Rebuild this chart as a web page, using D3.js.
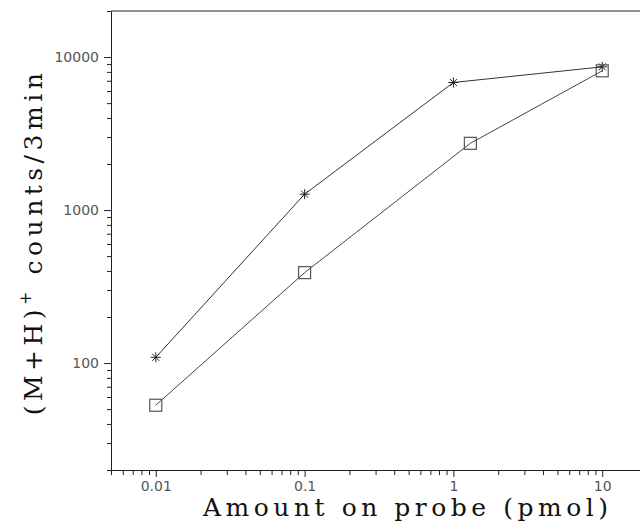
<!DOCTYPE html>
<html>
<head>
<meta charset="utf-8">
<script src="https://cdn.jsdelivr.net/npm/d3@7"></script>
<style>
  body { margin: 0; background: #fff; }
  svg { display: block; }
</style>
</head>
<body>
<div id="chart"></div>
<script>
// data
var starX = [0.01, 0.1, 1, 10];
var starY = [109, 1270, 6820, 8630];
var squareX = [0.01, 0.1, 1.3, 10];
var squareY = [53, 390, 2730, 8130];
var xTickLabels = ["0.01", "0.1", "1", "10"];
var yTickLabels = ["100", "1000", "10000"];

var width = 640, height = 526;
var plotLeft = 111, plotRight = 647, plotTop = 11, plotBottom = 470;

var svg = d3.select("#chart").append("svg")
  .attr("width", width)
  .attr("height", height);

var x = d3.scaleLog().domain([0.005, 20]).range([plotLeft, plotRight]);
var y = d3.scaleLog().domain([20, 20000]).range([plotBottom, plotTop]);

var ink = "#222";

// is it a power of ten
function major(d) { return Math.abs(Math.log10(d) - Math.round(Math.log10(d))) < 1e-6; }

// x axis
var xAxis = svg.append("g")
  .attr("transform", "translate(0," + plotBottom + ")")
  .call(d3.axisBottom(x).ticks(10)
    .tickFormat(function(d) { return major(d) ? xTickLabels[Math.round(Math.log10(d)) + 2] : ""; })
    .tickSizeOuter(0));
xAxis.select(".domain").attr("stroke", ink);
xAxis.selectAll(".tick line").attr("stroke", ink).attr("y2", function(d) { return major(d) ? 7 : 5; });
xAxis.selectAll(".tick text")
  .attr("y", 11)
  .style("font-family", "DejaVu Sans")
  .style("font-size", "14px")
  .style("fill", "#555");

// y axis
var yAxis = svg.append("g")
  .attr("transform", "translate(" + plotLeft + ",0)")
  .call(d3.axisLeft(y).ticks(10)
    .tickFormat(function(d) { return major(d) ? yTickLabels[Math.round(Math.log10(d)) - 2] || "" : ""; })
    .tickSizeOuter(0));
yAxis.select(".domain").attr("stroke", ink);
yAxis.selectAll(".tick line").attr("stroke", ink).attr("x2", function(d) { return major(d) ? -7 : -4; });
yAxis.selectAll(".tick text")
  .attr("x", -12)
  .style("font-family", "DejaVu Sans")
  .style("font-size", "14px")
  .style("fill", "#555");

// top frame line
svg.append("line")
  .attr("x1", plotLeft).attr("x2", width)
  .attr("y1", plotTop).attr("y2", plotTop)
  .attr("stroke", ink);

var line = d3.line()
  .x(function(d) { return x(d[0]); })
  .y(function(d) { return y(d[1]); });

var stars = d3.zip(starX, starY);
var squares = d3.zip(squareX, squareY);

svg.append("path").datum(stars)
  .attr("d", line).attr("fill", "none").attr("stroke", "#333").attr("stroke-width", 1);
svg.append("path").datum(squares)
  .attr("d", line).attr("fill", "none").attr("stroke", "#444").attr("stroke-width", 1);

// asterisk markers
var r = 5;
svg.selectAll(".star").data(stars).enter().append("path")
  .attr("class", "star")
  .attr("transform", function(d) { return "translate(" + x(d[0]) + "," + y(d[1]) + ")"; })
  .attr("d", "M" + (-r) + ",0H" + r + "M0," + (-r) + "V" + r +
    "M-3.5,-3.5L3.5,3.5M-3.5,3.5L3.5,-3.5")
  .attr("stroke", "#222").attr("stroke-width", 1);

// open squares
svg.selectAll(".sq").data(squares).enter().append("rect")
  .attr("class", "sq")
  .attr("x", function(d) { return x(d[0]) - 6; })
  .attr("y", function(d) { return y(d[1]) - 6; })
  .attr("width", 12).attr("height", 12)
  .attr("fill", "none").attr("stroke", "#555").attr("stroke-width", 1.2);

// axis titles
svg.append("text")
  .attr("x", 203).attr("y", 516)
  .attr("textLength", 405).attr("lengthAdjust", "spacing")
  .style("font-family", "DejaVu Serif")
  .style("font-size", "25px")
  .style("fill", "#111")
  .text("Amount on probe (pmol)");

var yt = svg.append("text")
  .attr("transform", "translate(42,242) rotate(-90)")
  .attr("text-anchor", "middle")
  .style("font-family", "DejaVu Serif")
  .style("font-size", "25px")
  .style("letter-spacing", "4.5px")
  .style("fill", "#111");
yt.append("tspan").text("(M+H)");
yt.append("tspan").attr("dy", -11).style("font-size", "16px").text("+");
yt.append("tspan").attr("dy", 11).text(" counts/3min");
</script>
</body>
</html>
